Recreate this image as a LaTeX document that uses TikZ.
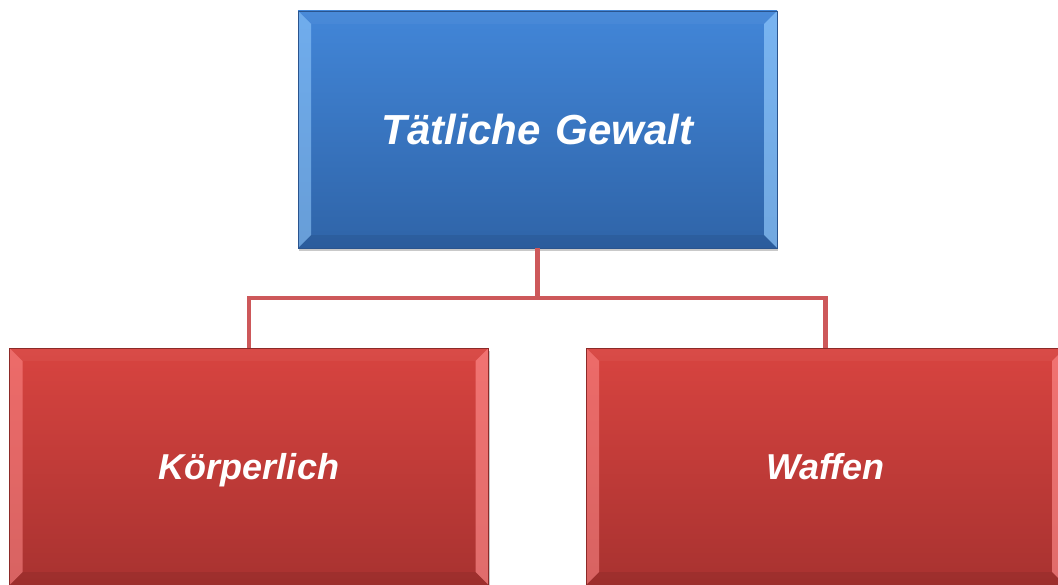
\documentclass[tikz,border=0pt]{standalone}
\usepackage{fontspec}
\setmainfont{Liberation Sans}
\usetikzlibrary{shadows}
\definecolor{bluetop}{RGB}{66,134,216}
\definecolor{bluebot}{RGB}{47,100,168}
\definecolor{blueedge}{RGB}{42,84,142}
\definecolor{bluelite}{RGB}{150,205,255}
\definecolor{redtop}{RGB}{216,68,64}
\definecolor{redbot}{RGB}{168,50,48}
\definecolor{rededge}{RGB}{140,42,40}
\definecolor{redlite}{RGB}{255,140,140}
\definecolor{conn}{RGB}{205,88,90}
\tikzset{
  bevelbox/.style={minimum width=359.25pt, minimum height=177.75pt, inner sep=0pt, outer sep=0pt,
    text=white, shading=axis, shading angle=0, text depth=0pt,
    drop shadow={shadow xshift=1pt, shadow yshift=-2.5pt, opacity=0.3, fill=black!70},
    path picture={
      \fill[#1,opacity=0.55] (path picture bounding box.north west) -- ++(13,13) -- ++(0,211) -- ++(-13,13) -- cycle;
      \fill[#1,opacity=0.65] (path picture bounding box.north east) -- ++(-13,13) -- ++(0,211) -- ++(13,13) -- cycle;
      \fill[white,opacity=0.04] (path picture bounding box.north west) -- ++(13,13) -- ++(453,0) -- ++(13,-13) -- cycle;
      \fill[black,opacity=0.07] (path picture bounding box.south west) -- ++(13,-13) -- ++(453,0) -- ++(13,13) -- cycle;
    }},
  bluebox/.style={bevelbox=bluelite, top color=bluetop, bottom color=bluebot, draw=blueedge, line width=0.6pt,
    text height=22.5pt, font=\fontsize{31.5}{38}\selectfont\bfseries\itshape},
  redbox/.style={bevelbox=redlite, top color=redtop, bottom color=redbot, draw=rededge, line width=0.6pt,
    text height=19.3pt, font=\fontsize{27}{33}\selectfont\bfseries\itshape},
  connector/.style={draw=conn, line width=3.4pt}
}
\begin{document}
\begin{tikzpicture}[x=0.75pt,y=-0.75pt]
\useasboundingbox (0,0) rectangle (1058,585);
\node[bluebox] (top) at (537.5,129.5) {Tätliche\hspace{0.08em} Gewalt};
\node[redbox] (left) at (249,466.5) {Körperlich};
\node[redbox] (right) at (825.5,466.5) {Waffen};
\coordinate (j) at (537.5,298);
\draw[connector] (top.south) -- (j);
\draw[connector] (left.north) |- (j) -| (right.north);
\end{tikzpicture}
\end{document}
